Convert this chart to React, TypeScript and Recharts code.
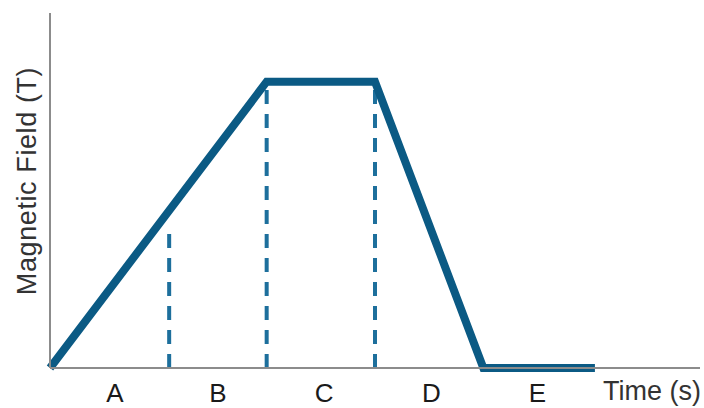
import { Line, LineChart, ReferenceLine, XAxis, YAxis } from 'recharts'

// time (s) and field (relative) of the ramp profile
const times = [0, 2, 3, 4, 5.03]
const field = [0, 1, 1, 0, 0]

// dashed dividers between the phases
const dividerTimes = [1.1, 2, 3]
const dividerTops = [0.475, 1, 1]

// phase letters under the axis
const phaseLabels = ['A', 'B', 'C', 'D', 'E']
const phasePositions = [0.6, 1.55, 2.53, 3.52, 4.5]

const data = times.map((t, i) => ({ t, b: field[i] }))

const LINE = '#0b5a84'
const DASH = '#1d6f9c'
const AXIS = '#8c8c8c'
const FONT = '"Liberation Sans", Arial, sans-serif'

function PhaseTick(props: any) {
	const { x, payload } = props
	const i = phasePositions.indexOf(payload.value)
	return (
		<text
			x={x}
			y={402}
			textAnchor="middle"
			fontSize={26}
			fontFamily={FONT}
			fill="#1a1a1a"
		>
			{phaseLabels[i]}
		</text>
	)
}

export default function App() {
	return (
		<div style={{ width: 704, height: 408, background: '#fff' }}>
			<style>{'body{margin:0}'}</style>
			<LineChart
				width={704}
				height={408}
				data={data}
				margin={{ top: 13, right: 4, bottom: 0, left: 0 }}
			>
				<XAxis
					dataKey="t"
					type="number"
					domain={[0, 6]}
					ticks={phasePositions}
					tick={<PhaseTick />}
					tickLine={false}
					axisLine={{ stroke: AXIS, strokeWidth: 2 }}
					height={40}
					label={{
						content: () => (
							<text
								x={701}
								y={400}
								textAnchor="end"
								fontSize={27}
								fontFamily={FONT}
								fill="#333"
							>
								Time (s)
							</text>
						),
					}}
				/>
				<YAxis
					type="number"
					domain={[0, 1.24]}
					width={50}
					tick={false}
					tickLine={false}
					axisLine={{ stroke: AXIS, strokeWidth: 2 }}
					label={{
						content: () => (
							<text
								transform="translate(36,181) rotate(-90)"
								textAnchor="middle"
								fontSize={27}
								letterSpacing={0.6}
								fontFamily={FONT}
								fill="#333"
							>
								Magnetic Field (T)
							</text>
						),
					}}
				/>
				{dividerTimes.map((t, i) => (
					<ReferenceLine
						key={t}
						segment={[
							{ x: t, y: 0 },
							{ x: t, y: dividerTops[i] },
						]}
						stroke={DASH}
						strokeWidth={4}
						strokeDasharray="14 10"
					/>
				))}
				<Line
					dataKey="b"
					stroke={LINE}
					strokeWidth={8}
					strokeLinejoin="miter"
					dot={false}
					isAnimationActive={false}
				/>
			</LineChart>
		</div>
	)
}
